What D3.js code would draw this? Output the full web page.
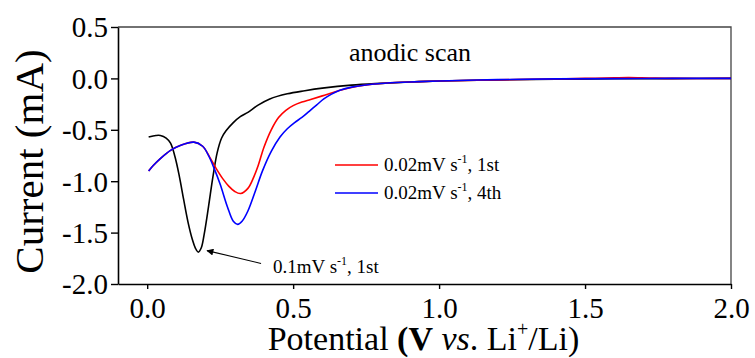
<!DOCTYPE html>
<html>
<head>
<meta charset="utf-8">
<script src="https://cdn.jsdelivr.net/npm/d3@7"></script>
<style>
  html, body { margin: 0; padding: 0; background: #fff; }
  svg { display: block; }
  svg text { font-family: "Liberation Serif", "Times New Roman", serif; fill: #000; }
</style>
</head>
<body>
<svg id="chart" width="755" height="358"></svg>
<script>
// Cyclic voltammetry, anodic scan: potential (V vs. Li+/Li) and current (mA)
const blackPotential = [0.005, 0.03, 0.045, 0.065, 0.08, 0.095, 0.11, 0.125, 0.14, 0.155, 0.165, 0.175, 0.185, 0.195, 0.21, 0.225, 0.24, 0.255, 0.27, 0.295, 0.32, 0.345, 0.38, 0.42, 0.48, 0.54, 0.6, 0.7, 0.8, 0.9, 1.0, 1.2, 1.4, 1.6, 1.8, 2.0];
const blackCurrent   = [-0.57, -0.555, -0.555, -0.58, -0.63, -0.76, -0.95, -1.18, -1.40, -1.57, -1.65, -1.69, -1.65, -1.52, -1.25, -0.96, -0.72, -0.58, -0.51, -0.43, -0.37, -0.33, -0.26, -0.20, -0.15, -0.12, -0.095, -0.065, -0.048, -0.035, -0.026, -0.015, -0.008, -0.004, -0.002, 0.0];

const redPotential = [0.005, 0.02, 0.045, 0.08, 0.115, 0.16, 0.19, 0.215, 0.235, 0.26, 0.28, 0.3, 0.32, 0.345, 0.365, 0.38, 0.4, 0.425, 0.45, 0.475, 0.5, 0.53, 0.56, 0.6, 0.65, 0.7, 0.8, 0.9, 1.0, 1.2, 1.4, 1.5, 1.6, 1.65, 1.72, 1.8, 2.0];
const redCurrent   = [-0.9, -0.85, -0.78, -0.70, -0.65, -0.62, -0.66, -0.77, -0.87, -0.98, -1.05, -1.10, -1.12, -1.07, -0.96, -0.85, -0.67, -0.5, -0.38, -0.31, -0.265, -0.23, -0.205, -0.17, -0.125, -0.088, -0.05, -0.035, -0.025, -0.014, -0.006, 0.0, 0.006, 0.008, 0.004, 0.0, 0.0];

const bluePotential = [0.005, 0.02, 0.045, 0.08, 0.115, 0.16, 0.19, 0.21, 0.23, 0.25, 0.275, 0.295, 0.31, 0.325, 0.345, 0.37, 0.395, 0.425, 0.455, 0.48, 0.505, 0.53, 0.555, 0.58, 0.605, 0.63, 0.66, 0.7, 0.8, 0.9, 1.0, 1.2, 1.4, 1.6, 1.8, 2.0];
const blueCurrent   = [-0.9, -0.85, -0.78, -0.70, -0.65, -0.62, -0.66, -0.75, -0.88, -1.03, -1.25, -1.39, -1.42, -1.39, -1.29, -1.1, -0.9, -0.71, -0.57, -0.49, -0.43, -0.38, -0.32, -0.26, -0.2, -0.155, -0.115, -0.085, -0.05, -0.035, -0.025, -0.012, -0.005, -0.002, 0.0, 0.0];

const xTicks = [0.0, 0.5, 1.0, 1.5, 2.0];
const yTicks = [0.5, 0.0, -0.5, -1.0, -1.5, -2.0];

const legendLabels = ["0.02mV s", "0.02mV s"];
const legendSuffix = [", 1st", ", 4th"];
const noteLabel = "0.1mV s";
const noteSuffix = ", 1st";
// arrow tail and head, in potential / current units
const arrowFrom = [0.39, -1.80];
const arrowTo = [0.205, -1.675];

const serif = '"Liberation Serif", "Times New Roman", serif';
const svg = d3.select("#chart");
const margin = { left: 118, right: 731, top: 27, bottom: 284 };

const x = d3.scaleLinear().domain([-0.1, 2.0]).range([margin.left, margin.right]);
const y = d3.scaleLinear().domain([-2.0, 0.5]).range([margin.bottom, margin.top]);

const fmt = d => d.toFixed(1);

// frame: top and right edges
svg.append("path")
  .attr("d", `M${margin.left},${margin.top}H${margin.right}V${margin.bottom}`)
  .attr("fill", "none").attr("stroke", "#444").attr("stroke-width", 1.3);

// curves
const line = d3.line().x(d => x(d[0])).y(d => y(d[1])).curve(d3.curveCatmullRom.alpha(0.5));
const series = [
  { px: blackPotential, cy: blackCurrent, color: "#000000" },
  { px: redPotential,   cy: redCurrent,   color: "#ff0000" },
  { px: bluePotential,  cy: blueCurrent,  color: "#0000ff" }
];
series.forEach(s => {
  svg.append("path")
    .datum(d3.zip(s.px, s.cy))
    .attr("d", line)
    .attr("fill", "none")
    .attr("stroke", s.color)
    .attr("stroke-width", 1.6)
    .attr("stroke-linejoin", "round");
});

// left axis
const yAxis = svg.append("g")
  .attr("transform", `translate(${margin.left},0)`)
  .call(d3.axisLeft(y).tickValues(yTicks).tickFormat(fmt).tickSizeInner(7).tickSizeOuter(0).tickPadding(3));
yAxis.attr("font-family", null);
yAxis.select(".domain").attr("stroke", "#000").attr("stroke-width", 1.6);
yAxis.selectAll(".tick line").attr("stroke", "#000").attr("stroke-width", 1.4);
yAxis.selectAll(".tick text")
  .style("font-family", serif)
  .style("font-size", "29px").attr("dy", "0.34em").attr("fill", "#000");

// bottom axis
const xAxis = svg.append("g")
  .attr("transform", `translate(0,${margin.bottom})`)
  .call(d3.axisBottom(x).tickValues(xTicks).tickFormat(fmt).tickSizeInner(5).tickSizeOuter(0).tickPadding(8));
xAxis.attr("font-family", null);
xAxis.select(".domain").attr("stroke", "#000").attr("stroke-width", 1.6);
xAxis.selectAll(".tick line").attr("stroke", "#000").attr("stroke-width", 1.4);
xAxis.selectAll(".tick text")
  .style("font-family", serif)
  .style("font-size", "29px").attr("dy", "0.71em").attr("fill", "#000");

// axis titles
svg.append("text")
  .attr("transform", `translate(43,${(margin.top + margin.bottom) / 2 + 6}) rotate(-90)`)
  .attr("text-anchor", "middle")
  .style("font-size", "41px")
  .text("Current (mA)");

const xt = svg.append("text")
  .attr("x", (margin.left + margin.right) / 2 - 1)
  .attr("y", 350)
  .attr("text-anchor", "middle")
  .style("font-size", "34px");
xt.append("tspan").text("Potential ");
xt.append("tspan").attr("font-weight", "bold").text("(V");
xt.append("tspan").text(" ");
xt.append("tspan").attr("font-style", "italic").text("vs");
xt.append("tspan").text(". Li");
xt.append("tspan").style("font-size", "20px").attr("dy", -14).text("+");
xt.append("tspan").attr("dy", 14).text("/Li)");

// scan direction label
svg.append("text")
  .attr("x", 349).attr("y", 61)
  .style("font-size", "26px")
  .text("anodic scan");

// legend
const legendY = [165, 193];
[1, 2].forEach((si, i) => {
  svg.append("line")
    .attr("x1", 335).attr("x2", 378)
    .attr("y1", legendY[i]).attr("y2", legendY[i])
    .attr("stroke", series[si].color).attr("stroke-width", 1.6);
  const t = svg.append("text")
    .attr("x", 384).attr("y", legendY[i] + 6)
    .style("font-size", "19px");
  t.append("tspan").text(legendLabels[i]);
  t.append("tspan").style("font-size", "12px").attr("dy", -8).text("-1");
  t.append("tspan").attr("dy", 8).text(legendSuffix[i]);
});

// annotation with arrow pointing at the 0.1 mV/s peak
svg.append("defs").append("marker")
  .attr("id", "arrowhead")
  .attr("viewBox", "0 0 10 10")
  .attr("refX", 9).attr("refY", 5)
  .attr("markerWidth", 10).attr("markerHeight", 7)
  .attr("markerUnits", "userSpaceOnUse")
  .attr("orient", "auto")
  .append("path").attr("d", "M0,0L10,5L0,10z").attr("fill", "#000");

svg.append("line")
  .attr("x1", x(arrowFrom[0])).attr("y1", y(arrowFrom[1]))
  .attr("x2", x(arrowTo[0])).attr("y2", y(arrowTo[1]))
  .attr("stroke", "#000").attr("stroke-width", 1.1)
  .attr("marker-end", "url(#arrowhead)");

const nt = svg.append("text")
  .attr("x", 273).attr("y", 273)
  .style("font-size", "19px");
nt.append("tspan").text(noteLabel);
nt.append("tspan").style("font-size", "12px").attr("dy", -8).text("-1");
nt.append("tspan").attr("dy", 8).text(noteSuffix);
</script>
</body>
</html>
